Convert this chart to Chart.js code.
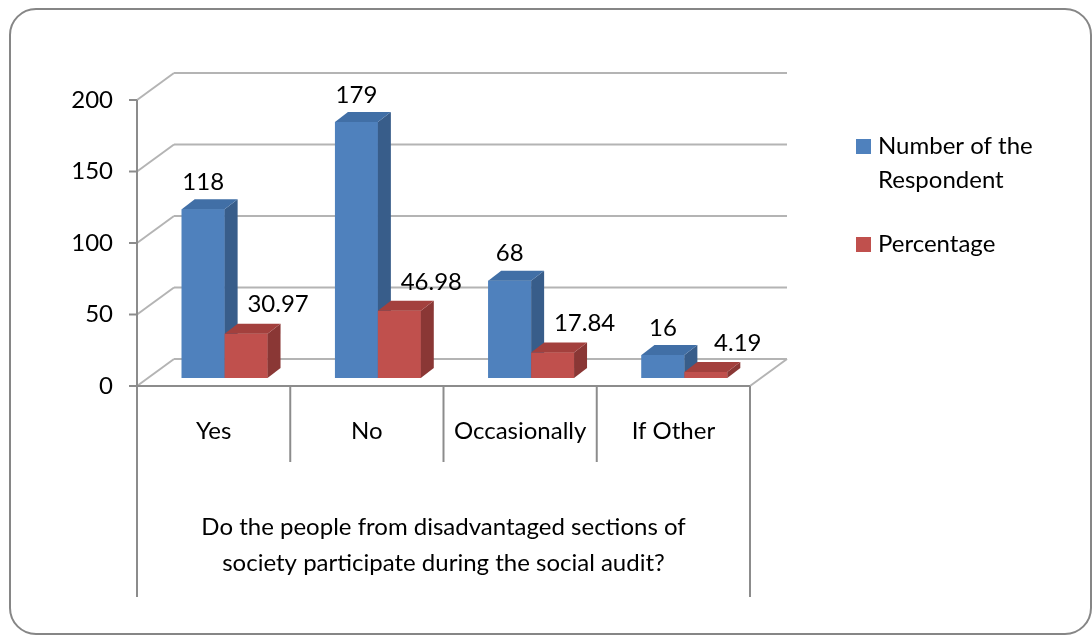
<!DOCTYPE html>
<html>
<head>
<meta charset="utf-8">
<script src="https://cdn.jsdelivr.net/npm/chart.js@4.4.1/dist/chart.umd.min.js"></script>
<style>
  body { margin: 0; background: #fff; }
  #myChart { display: block; }
</style>
</head>
<body>
<canvas id="myChart" width="1092" height="635"></canvas>
<script>
// categories and values
var categories = ["Yes", "No", "Occasionally", "If Other"];
var respondents = [118, 179, 68, 16];
var percentage = [30.97, 46.98, 17.84, 4.19];
var yTicks = [0, 50, 100, 150, 200];
var axisTitle = ["Do the people from disadvantaged sections of", "society participate during the social audit?"];

var FONT = "Lato, 'Open Sans', sans-serif";

// offsets of the 3d box, relative to the plane the bars stand on
var front = { dx: -11, dy: 8 };
var back = { dx: 26, dy: -19 };
var barDepth = { dx: 13, dy: -10 };

var shades = [
    { front: "#4F81BD", side: "#385D8A", top: "#416FA6" },
    { front: "#C0504D", side: "#8A3735", top: "#A3403D" }
];

function line(ctx, x1, y1, x2, y2) {
    ctx.beginPath();
    ctx.moveTo(x1, y1);
    ctx.lineTo(x2, y2);
    ctx.stroke();
}

function poly(ctx, pts, color) {
    ctx.beginPath();
    ctx.moveTo(pts[0][0], pts[0][1]);
    for (var i = 1; i < pts.length; i++) ctx.lineTo(pts[i][0], pts[i][1]);
    ctx.closePath();
    ctx.fillStyle = color;
    ctx.fill();
}

// outer rounded border
var borderPlugin = {
    id: "border",
    beforeDraw: function (chart) {
        var ctx = chart.ctx;
        ctx.save();
        ctx.strokeStyle = "#868686";
        ctx.lineWidth = 2;
        ctx.beginPath();
        ctx.roundRect(10, 9, 1081, 625, 26);
        ctx.stroke();
        ctx.restore();
    }
};

// walls, floor, axes and category table
var framePlugin = {
    id: "frame3d",
    beforeDatasetsDraw: function (chart) {
        var ctx = chart.ctx;
        var x = chart.scales.x, y = chart.scales.y;
        var left = chart.chartArea.left, right = chart.chartArea.right;
        var catW = (right - left) / categories.length;
        var fx = left + front.dx;
        ctx.save();

        // back wall gridlines + side wall diagonals
        ctx.strokeStyle = "#B4B4B4";
        ctx.lineWidth = 2;
        yTicks.forEach(function (v) {
            var py = y.getPixelForValue(v);
            line(ctx, left + back.dx, py + back.dy, right + back.dx, py + back.dy);
            line(ctx, fx, py + front.dy, left + back.dx, py + back.dy);
        });
        var y0 = y.getPixelForValue(0);
        line(ctx, right + front.dx, y0 + front.dy, right + back.dx, y0 + back.dy);

        // front axis, tick marks and category dividers
        ctx.strokeStyle = "#8C8C8C";
        var top = y.getPixelForValue(200) + front.dy;
        var base = y0 + front.dy;
        line(ctx, fx, top, fx, 597);
        line(ctx, fx, base, right + front.dx, base);
        for (var i = 1; i <= categories.length; i++) {
            var cx = fx + i * catW;
            line(ctx, cx, base, cx, i == categories.length ? 597 : 462);
        }
        ctx.fillStyle = "#000";
        ctx.font = "24px " + FONT;
        ctx.textAlign = "right";
        ctx.textBaseline = "middle";
        yTicks.forEach(function (v) {
            var py = y.getPixelForValue(v) + front.dy;
            line(ctx, fx - 8, py, fx, py);
            ctx.fillText(String(v), fx - 24, py);
        });

        ctx.textAlign = "center";
        categories.forEach(function (c, i) {
            ctx.fillText(c, x.getPixelForValue(i) + front.dx, 431);
        });
        var mid = (left + right) / 2 + front.dx;
        ctx.fillText(axisTitle[0], mid, 527);
        ctx.fillText(axisTitle[1], mid, 563);
        ctx.restore();
    },
    afterDatasetsDraw: function (chart) {
        var ctx = chart.ctx;
        ctx.save();
        // faces, category by category so nearer bars cover the sides behind them
        for (var i = 0; i < categories.length; i++) {
            chart.data.datasets.forEach(function (ds, d) {
                var el = chart.getDatasetMeta(d).data[i];
                var l = el.x - el.width / 2, r = el.x + el.width / 2;
                var t = el.y, b = el.base;
                var s = shades[d];
                poly(ctx, [[l, t], [r, t], [r, b], [l, b]], s.front);
                poly(ctx, [[r, t], [r + barDepth.dx, t + barDepth.dy], [r + barDepth.dx, b + barDepth.dy], [r, b]], s.side);
                poly(ctx, [[l, t], [l + barDepth.dx, t + barDepth.dy], [r + barDepth.dx, t + barDepth.dy], [r, t]], s.top);
            });
        }
        // value labels
        ctx.fillStyle = "#000";
        ctx.font = "24px " + FONT;
        ctx.textAlign = "center";
        ctx.textBaseline = "middle";
        chart.data.datasets.forEach(function (ds, d) {
            chart.getDatasetMeta(d).data.forEach(function (el, i) {
                var shift = d == 0 ? 0 : 32;
                var lift = d == 0 ? 27 : 29;
                ctx.fillText(String(ds.data[i]), el.x + shift, el.y - lift);
            });
        });
        ctx.restore();
    }
};

// legend at the right
var legendPlugin = {
    id: "sideLegend",
    afterDraw: function (chart) {
        var ctx = chart.ctx;
        ctx.save();
        ctx.font = "24px " + FONT;
        ctx.textAlign = "left";
        ctx.textBaseline = "middle";
        var rows = [
            { lines: ["Number of the", "Respondent"], y: 146 },
            { lines: ["Percentage"], y: 244 }
        ];
        rows.forEach(function (row, d) {
            ctx.fillStyle = chart.data.datasets[d].backgroundColor;
            ctx.fillRect(856, row.y - 7, 15, 15);
            ctx.fillStyle = "#000";
            row.lines.forEach(function (t, k) {
                ctx.fillText(t, 878, row.y + k * 34);
            });
        });
        ctx.restore();
    }
};

var ctx = document.getElementById("myChart");

var myChart = new Chart(ctx, {
    type: "bar",
    data: {
        labels: categories,
        datasets: [
            {
                label: "Number of the Respondent",
                data: respondents,
                backgroundColor: "#4F81BD"
            },
            {
                label: "Percentage",
                data: percentage,
                backgroundColor: "#C0504D"
            }
        ]
    },
    options: {
        responsive: false,
        animation: false,
        layout: {
            padding: { left: 148, right: 331, top: 92, bottom: 257 }
        },
        datasets: {
            bar: { barPercentage: 1, categoryPercentage: 0.56 }
        },
        scales: {
            x: { display: false },
            y: { display: false, min: 0, max: 200 }
        },
        plugins: {
            legend: { display: false },
            tooltip: { enabled: false }
        }
    },
    plugins: [borderPlugin, framePlugin, legendPlugin]
});
</script>
</body>
</html>
